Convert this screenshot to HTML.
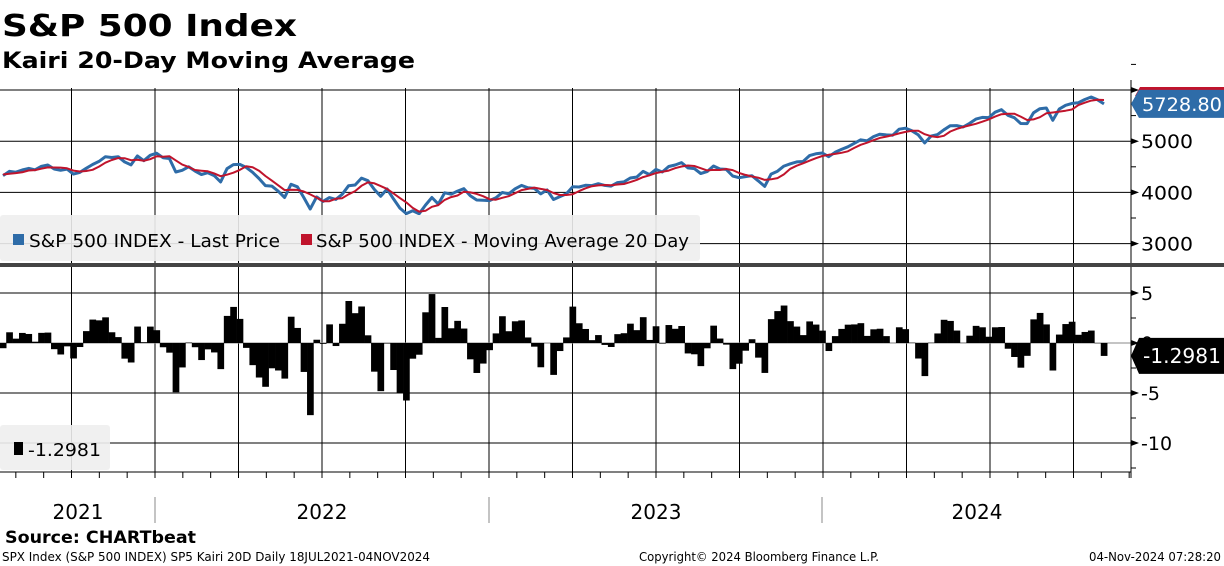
<!DOCTYPE html>
<html><head><meta charset="utf-8"><style>
html,body{margin:0;padding:0;background:#fff;width:1224px;height:566px;overflow:hidden}
svg{display:block;font-family:"DejaVu Sans","Liberation Sans",sans-serif}
</style></head><body>
<svg id="chart" width="1224" height="566" viewBox="0 0 1224 566" xmlns="http://www.w3.org/2000/svg">
<text x="2" y="36" font-size="30" font-weight="bold" textLength="295" lengthAdjust="spacingAndGlyphs">S&amp;P 500 Index</text>
<text x="2" y="68" font-size="22" font-weight="bold" textLength="413" lengthAdjust="spacingAndGlyphs">Kairi 20-Day Moving Average</text>
<g id="grid"></g>
<g id="marks"></g>
<g id="overlay"></g>
<text x="5" y="543" font-size="17" font-weight="bold" textLength="191" lengthAdjust="spacingAndGlyphs">Source: CHARTbeat</text>
<text x="2" y="561" font-size="12" textLength="428" lengthAdjust="spacingAndGlyphs">SPX Index (S&amp;P 500 INDEX) SP5 Kairi 20D  Daily 18JUL2021-04NOV2024</text>
<text x="639" y="561" font-size="12" textLength="240" lengthAdjust="spacingAndGlyphs">Copyright© 2024 Bloomberg Finance L.P.</text>
<text x="1089" y="561" font-size="12" textLength="132" lengthAdjust="spacingAndGlyphs">04-Nov-2024 07:28:20</text>
</svg>
<script>
// weekly closes starting 02-Jul-2021
const prices = [4352,4370,4327,4412,4395,4437,4468,4441,4509,4535,4458,4432,4455,4357,4391,4471,4545,4605,4697,4682,4698,4595,4538,4712,4620,4725,4766,
4677,4662,4398,4431,4500,4418,4349,4385,4329,4204,4463,4543,4546,4488,4393,4272,4132,4123,4024,3901,4158,4109,3901,3675,3912,3825,3899,3863,3962,4130,4145,4280,4228,4058,3924,4067,3873,3693,3586,3640,3583,3752,3901,3771,3993,3965,4026,4072,3934,3852,3845,3840,
3895,3999,3973,4071,4136,4090,4079,3970,4046,3862,3917,3971,4109,4105,4138,4133,4169,4136,4124,4192,4205,4282,4299,4410,4348,4450,4399,4505,4536,4582,4478,4464,4370,4406,4516,4457,4450,4320,4288,4308,4327,4224,4117,4358,4415,4514,4559,4595,4604,4719,4754,4770,
4697,4784,4840,4891,4959,5027,5006,5089,5137,5124,5117,5234,5254,5204,5123,4967,5100,5128,5223,5303,5305,5278,5347,5432,5465,5460,5567,5615,5505,5459,5346,5344,5554,5634,5648,5408,5626,5702,5738,5751,5815,5864,5808,5729];
const yearLabels = ["2021","2022","2023","2024"];
const priceTicks = [3000,4000,5000,6000];
const kairiTicks = [5,0,-5,-10];
const lastPriceLabel = "5728.80";
const lastKairiLabel = "-1.2981";
const maWindow = 4; // ~20 trading days

const NS="http://www.w3.org/2000/svg";
function mk(tag,attrs,parent){const e=document.createElementNS(NS,tag);for(const k in attrs)e.setAttribute(k,attrs[k]);parent.appendChild(e);return e;}
const grid=document.getElementById('grid'),marks=document.getElementById('marks'),ov=document.getElementById('overlay');
const PX=1131, weekPx=334/52.18, x0=3-2*weekPx;
const xw=i=>x0+i*weekPx;
const yP=v=>90+(6000-v)*0.0512;
const yK=v=>343-v*10;
const yearX=[155,489,822];
for(let q=-2;q<=11;q++){const x=155+q*83.5;if(x<0||x>PX)continue;
 let l=mk('line',{x1:x,x2:x,y1:88,y2:472,stroke:'#000','stroke-width':1},grid);
 }
priceTicks.forEach(t=>{const y=yP(t);let l=mk('line',{x1:0,x2:PX,y1:y,y2:y,stroke:'#000','stroke-width':1},grid);
 
 let tk=mk('path',{d:`M${PX} ${y-3}L${PX+8} ${y}L${PX} ${y+3}Z`,fill:'#000'},grid);
 
 if(t<6000){let tx=mk('text',{x:PX+10,y:y+7,'font-size':19,textLength:52,lengthAdjust:'spacingAndGlyphs'},grid);tx.textContent=t;
 }
 mk('line',{x1:PX,x2:PX+5,y1:yP(t+500),y2:yP(t+500),stroke:'#000'},grid);});
kairiTicks.forEach(t=>{const y=yK(t);let l=mk('line',{x1:0,x2:PX,y1:y,y2:y,stroke:t===0?'#888':'#000','stroke-width':1},grid);
 
 let tk=mk('path',{d:`M${PX} ${y-3}L${PX+8} ${y}L${PX} ${y+3}Z`,fill:'#000'},grid);
 
 let tx=mk('text',{x:PX+10,y:y+7,'font-size':19},grid);tx.textContent=t;
 
 mk('line',{x1:PX,x2:PX+5,y1:yK(t-2.5),y2:yK(t-2.5),stroke:'#000'},grid);});
mk('line',{x1:PX,x2:PX,y1:80,y2:478,stroke:'#000'},grid);
mk('line',{x1:0,x2:PX,y1:472,y2:472,stroke:'#000'},grid);
for(let m=-6;m<=41;m++){const x=155+m*334/12;if(x<0||x>PX)continue;mk('line',{x1:x,x2:x,y1:472,y2:478,stroke:'#000'},grid);}
yearX.forEach(x=>{let l=mk('line',{x1:x,x2:x,y1:497,y2:523,stroke:'#888'},grid);
 });
const yl=[78,322,656,977];
yearLabels.forEach((s,i)=>{let t=mk('text',{x:yl[i],y:519,'font-size':20,'text-anchor':'middle'},grid);t.textContent=s;
 });
const ma=prices.map((v,i)=>{const s=prices.slice(Math.max(0,i-maWindow+1),i+1);return s.reduce((a,b)=>a+b,0)/s.length;});
const kairi=prices.map((v,i)=>(v-ma[i])/ma[i]*100);
const start=2;
kairi.forEach((k,i)=>{if(i<start)return;const y=yK(k),y0=yK(0);
 let r=mk('rect',{x:xw(i)-weekPx/2,y:Math.min(y,y0),width:weekPx+0.3,height:Math.abs(y-y0),fill:'#000'},marks);
 });
let dma='',dp='';
for(let i=start;i<prices.length;i++){dp+=(i===start?'M':'L')+xw(i).toFixed(1)+' '+yP(prices[i]).toFixed(1);
 dma+=(i===start?'M':'L')+xw(i).toFixed(1)+' '+yP(ma[i]).toFixed(1);}
let lp=mk('path',{d:dp,fill:'none',stroke:'#2e6ca8','stroke-width':3,'stroke-linejoin':'round'},marks);

let lm=mk('path',{d:dma,fill:'none',stroke:'#c0142c','stroke-width':2,'stroke-linejoin':'round'},marks);

let sep=mk('rect',{x:0,y:263,width:1224,height:4,fill:'#444'},ov);

let lg=mk('rect',{x:0,y:215,width:700,height:46,rx:3,fill:'#eeeeee','fill-opacity':0.9},ov);

mk('rect',{x:13,y:234,width:11,height:11,fill:'#2e6ca8'},ov);
let t1=mk('text',{x:29,y:247,'font-size':18,textLength:251,lengthAdjust:'spacingAndGlyphs'},ov);t1.textContent='S&P 500 INDEX - Last Price';

mk('rect',{x:301,y:234,width:11,height:11,fill:'#c0142c'},ov);
let t2=mk('text',{x:316,y:247,'font-size':18,textLength:373,lengthAdjust:'spacingAndGlyphs'},ov);t2.textContent='S&P 500 INDEX - Moving Average 20 Day';

let lg2=mk('rect',{x:0,y:425,width:110,height:45,rx:3,fill:'#eeeeee','fill-opacity':0.9},ov);

mk('rect',{x:14,y:442,width:9,height:13,fill:'#000'},ov);
let t3=mk('text',{x:28,y:456,'font-size':18,textLength:73,lengthAdjust:'spacingAndGlyphs'},ov);t3.textContent=lastKairiLabel;

mk('path',{d:'M1140 87L1224 87L1224 96L1135 96Z',fill:'#c0142c'},ov);
const ly=yP(prices[prices.length-1]);
let pb=mk('path',{d:`M1131 ${ly}L1139 ${ly-14}L1224 ${ly-14}L1224 ${ly+14}L1139 ${ly+14}Z`,fill:'#2e6ca8'},ov);

let pt=mk('text',{x:1142,y:ly+7,'font-size':19,fill:'#fff',textLength:80,lengthAdjust:'spacingAndGlyphs'},ov);pt.textContent=lastPriceLabel;

const ky=yK(kairi[kairi.length-1]);
let kb=mk('path',{d:`M1131 ${ky}L1139 ${ky-18}L1224 ${ky-18}L1224 ${ky+18}L1139 ${ky+18}Z`,fill:'#000'},ov);

let kt=mk('text',{x:1143,y:ky+7,'font-size':20,fill:'#fff',textLength:78,lengthAdjust:'spacingAndGlyphs'},ov);kt.textContent=lastKairiLabel;

</script>
</body></html>
